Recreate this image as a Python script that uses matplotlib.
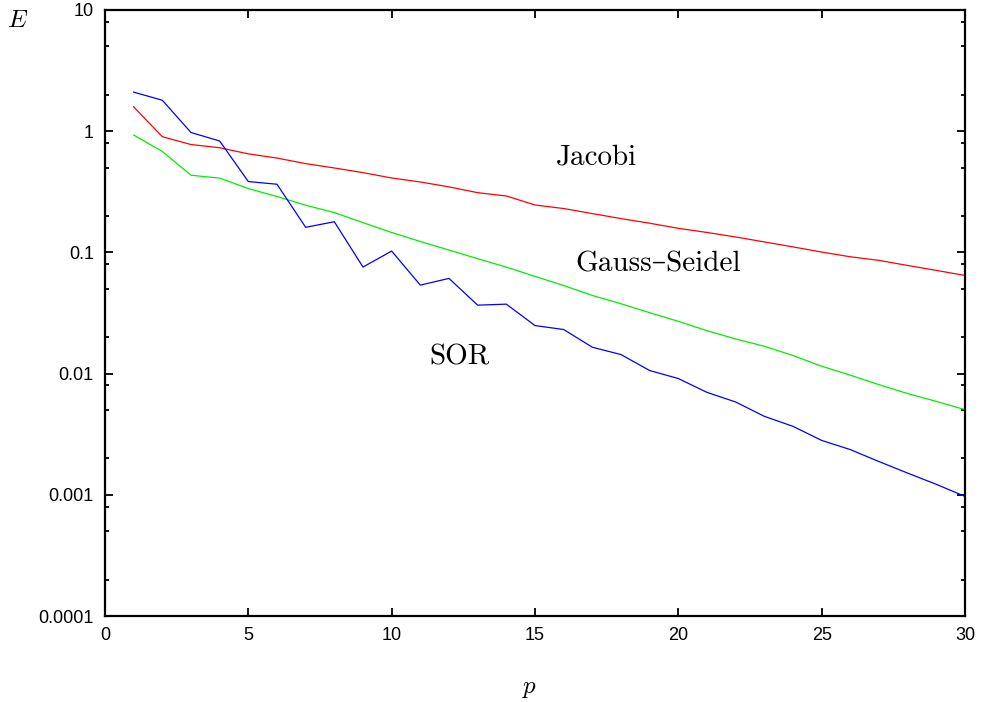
import matplotlib
matplotlib.use('Agg')
import matplotlib.pyplot as plt
from matplotlib.ticker import LogLocator, FixedLocator, NullFormatter

# iteration number p and error E for the three methods
p = list(range(1, 31))
jacobi = [1.59, 0.90, 0.776, 0.73, 0.65, 0.60, 0.54, 0.497, 0.455, 0.411,
          0.381, 0.347, 0.311, 0.292, 0.246, 0.23, 0.209, 0.19, 0.174, 0.158,
          0.146, 0.134, 0.122, 0.111, 0.1006, 0.092, 0.0859, 0.078, 0.071, 0.0645]
gauss_seidel = [0.93, 0.68, 0.433, 0.41, 0.336, 0.289, 0.245, 0.213, 0.176, 0.146,
                0.123, 0.1045, 0.0887, 0.0756, 0.0634, 0.0533, 0.0441, 0.0377, 0.0318, 0.027,
                0.0226, 0.0193, 0.0168, 0.0141, 0.0115, 0.0097, 0.0081, 0.00684, 0.0059, 0.00504]
sor = [2.1, 1.80, 0.975, 0.83, 0.384, 0.365, 0.161, 0.179, 0.0757, 0.1025,
       0.0537, 0.061, 0.0367, 0.0374, 0.0249, 0.0231, 0.0165, 0.01435, 0.0106, 0.0091,
       0.0070, 0.00583, 0.00444, 0.00367, 0.00281, 0.00236, 0.00188, 0.00151, 0.00122, 0.00097]

y_ticks = [0.0001, 0.001, 0.01, 0.1, 1, 10]
y_labels = ['0.0001', '0.001', '0.01', '0.1', '1', '10']
x_ticks = [0, 5, 10, 15, 20, 25, 30]

plt.rcParams['mathtext.fontset'] = 'cm'

fig = plt.figure(figsize=(9.82, 7.02), dpi=100)
ax = fig.add_axes([0.1069, 0.1225, 0.8758, 0.8633])

ax.plot(p, jacobi, color='#ff0000', lw=0.9)
ax.plot(p, gauss_seidel, color='#00ee00', lw=0.9)
ax.plot(p, sor, color='#0000ff', lw=0.9)

ax.set_yscale('log')
ax.set_xlim(0, 30)
ax.set_ylim(0.0001, 10)
ax.set_xticks(x_ticks)
ax.set_xticklabels([str(t) for t in x_ticks])
ax.yaxis.set_major_locator(FixedLocator(y_ticks))
ax.set_yticklabels(y_labels)
ax.yaxis.set_minor_locator(LogLocator(base=10, subs=[2, 5, 8]))
ax.yaxis.set_minor_formatter(NullFormatter())

for side in ax.spines.values():
    side.set_linewidth(1.6)
ax.tick_params(which='both', direction='in', top=True, right=True, width=1.3,
               labelsize=13, labelfontfamily='Liberation Sans')
ax.tick_params(which='major', length=6, pad=8)
ax.tick_params(which='minor', length=3)

serif = ['cmr10', 'DejaVu Serif']
ax.text(17.13, 0.61, 'Jacobi', fontsize=21, family=serif, ha='center', va='center')
ax.text(19.29, 0.0796, 'Gauss\u2013Seidel', fontsize=21, family=serif, ha='center', va='center')
ax.text(12.38, 0.01355, 'SOR', fontsize=21, family=serif, ha='center', va='center')

fig.text(18 / 982, 1 - 20 / 702, r'$E$', fontsize=18, ha='center', va='center')
fig.text(530 / 982, 1 - 688 / 702, r'$p$', fontsize=18, ha='center', va='center')

plt.savefig('out.png', dpi=100, facecolor='w')
plt.close()
